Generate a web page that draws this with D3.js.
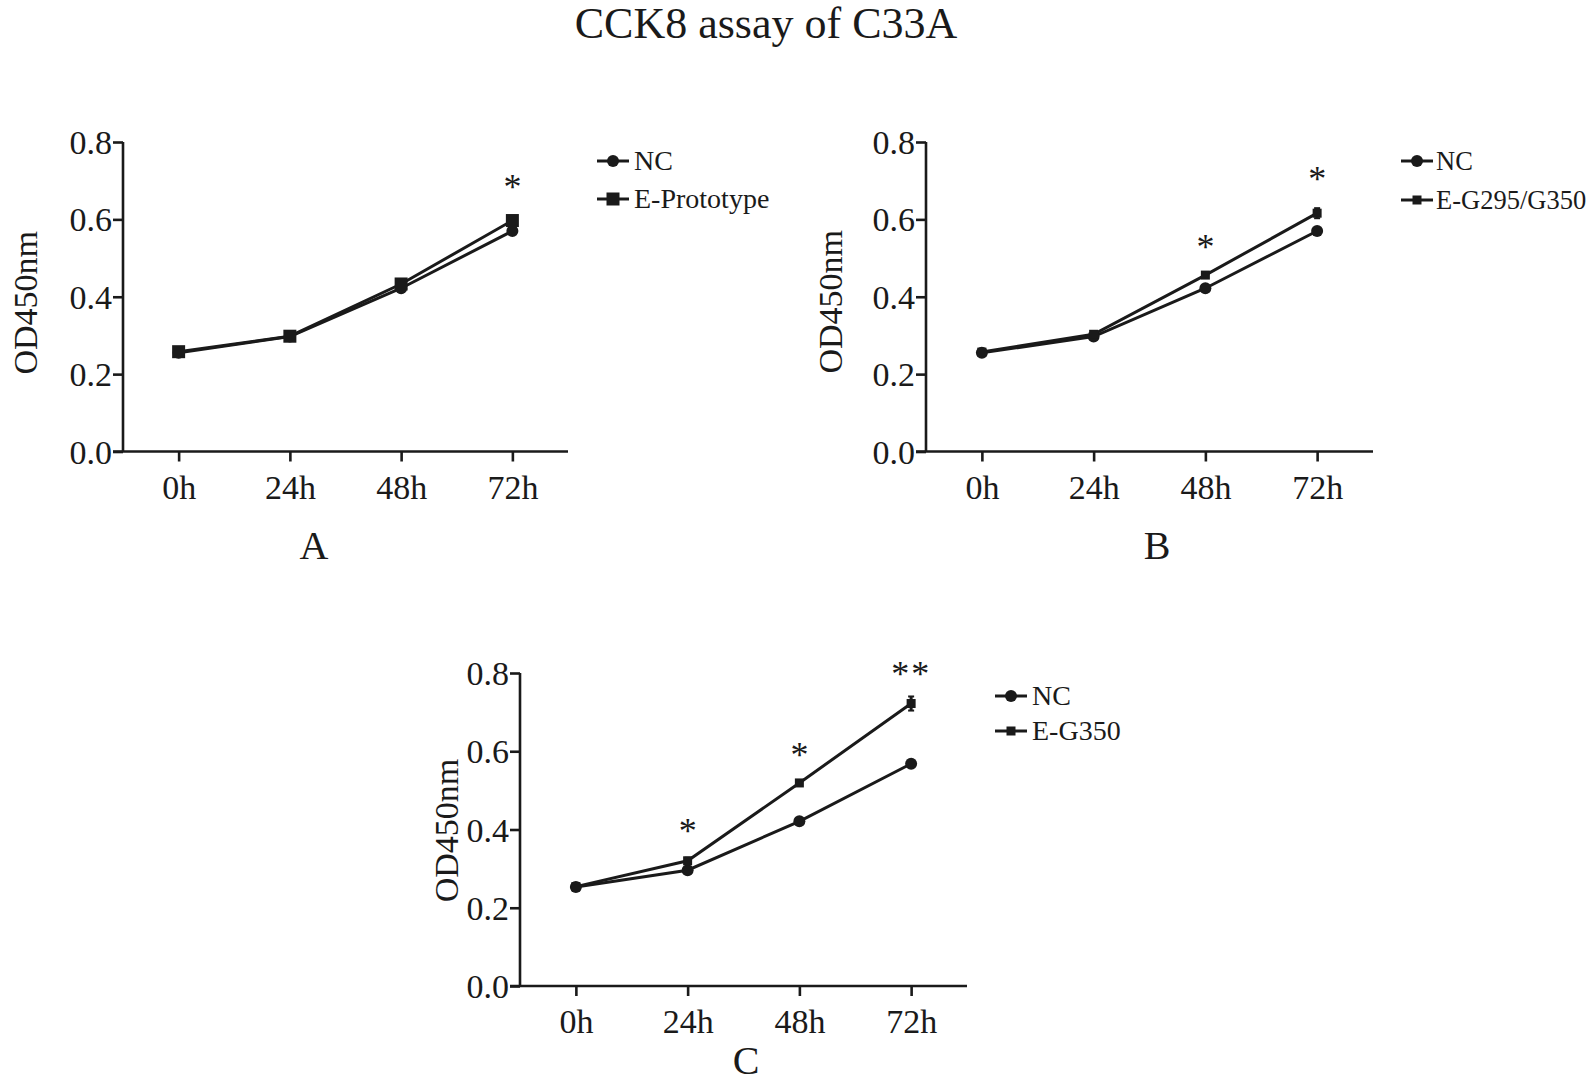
<!DOCTYPE html>
<html><head><meta charset="utf-8">
<script src="https://cdn.jsdelivr.net/npm/d3@7"></script>
<style>
body{margin:0;background:#fff}
text{font-family:"Liberation Serif","Times New Roman",serif;fill:#1a1a1a}
</style>
</head><body>
<svg id="c" width="1591" height="1083"></svg>
<script>
// ---- data ----
const timePoints = ["0h", "24h", "48h", "72h"];
const yTicks = [0.0, 0.2, 0.4, 0.6, 0.8];
const ncA = [0.255, 0.297, 0.422, 0.570];
const protoA = [0.258, 0.298, 0.433, 0.597];
const ncB = [0.255, 0.297, 0.422, 0.570];
const g295B = [0.257, 0.303, 0.456, 0.616];
const g295BErr = [0.003, 0.004, 0.006, 0.013];
const ncC = [0.253, 0.296, 0.421, 0.568];
const g350C = [0.254, 0.320, 0.519, 0.722];
const g350CErr = [0.003, 0.008, 0.006, 0.018];
const starsA = [{t: "72h", s: "*", v: 0.694}];
const starsB = [{t: "48h", s: "*", v: 0.539}, {t: "72h", s: "*", v: 0.715}];
const starsC = [{t: "24h", s: "*", v: 0.407}, {t: "48h", s: "*", v: 0.601}, {t: "72h", s: "**", v: 0.808}];
const titleText = "CCK8 assay of C33A";
const yLabel = "OD450nm";

// ---- layout ----
const panels = [
  {letter: "A", axisX: 123, axisEnd: 568, yTop: 142, yBot: 451.5, labX: 25, labDy: 6,
   letterX: 314, letterY: 559, legX: 597, legY: [161, 199], legFont: 28, legGap: 37,
   series: [{name: "NC", vals: ncA, shape: "circle"}, {name: "E-Prototype", vals: protoA, shape: "bigsquare"}],
   stars: starsA},
  {letter: "B", axisX: 926, axisEnd: 1373, yTop: 142, yBot: 451.5, labX: 830, labDy: 5,
   letterX: 1157, letterY: 559, legX: 1401, legY: [161, 200], legFont: 26.5, legGap: 35,
   series: [{name: "NC", vals: ncB, shape: "circle"}, {name: "E-G295/G350", vals: g295B, err: g295BErr, shape: "square"}],
   stars: starsB},
  {letter: "C", axisX: 520, axisEnd: 967, yTop: 673, yBot: 986, labX: 446, labDy: 1,
   letterX: 746, letterY: 1074, legX: 995, legY: [696, 731], legFont: 28, legGap: 37,
   series: [{name: "NC", vals: ncC, shape: "circle"}, {name: "E-G350", vals: g350C, err: g350CErr, shape: "square"}],
   stars: starsC}
];

const svg = d3.select("#c");
const ink = "#1a1a1a";

svg.append("text").attr("x", 766).attr("y", 38).attr("text-anchor", "middle")
  .attr("font-size", 44).text(titleText);

function marker(g, shape, cx, cy) {
  if (shape === "circle") {
    g.append("circle").attr("cx", cx).attr("cy", cy).attr("r", 6).attr("fill", ink);
  } else if (shape === "bigsquare") {
    g.append("rect").attr("x", cx - 6.5).attr("y", cy - 6.5).attr("width", 13).attr("height", 13).attr("fill", ink);
  } else {
    g.append("rect").attr("x", cx - 4.5).attr("y", cy - 4.5).attr("width", 9).attr("height", 9).attr("fill", ink);
  }
}

panels.forEach(p => {
  const g = svg.append("g");
  const x = d3.scalePoint().domain(timePoints).range([p.axisX, p.axisEnd]).padding(0.5);
  const y = d3.scaleLinear().domain([0, 0.8]).range([p.yBot, p.yTop]);

  const xa = g.append("g").attr("transform", `translate(0,${p.yBot})`)
    .call(d3.axisBottom(x).tickSize(10).tickSizeOuter(0).tickPadding(13));
  const ya = g.append("g").attr("transform", `translate(${p.axisX},0)`)
    .call(d3.axisLeft(y).tickValues(yTicks).tickFormat(d3.format(".1f")).tickSize(10).tickSizeOuter(0).tickPadding(1));
  [xa, ya].forEach(a => {
    a.selectAll("path,line").attr("stroke", ink).attr("stroke-width", 2.6);
    a.selectAll("text").attr("font-size", 34).attr("fill", ink)
      .style("font-family", '"Liberation Serif","Times New Roman",serif');
  });
  ya.selectAll(".tick text").attr("dy", "0.34em");
  ya.select(".domain").attr("d", `M0,${p.yBot}V${p.yTop}`);
  xa.select(".domain").attr("d", `M${p.axisX - 10},0H${p.axisEnd}`);

  const cy = (p.yTop + p.yBot) / 2 + p.labDy;
  g.append("text").attr("transform", `translate(${p.labX + 12},${cy}) rotate(-90)`)
    .attr("text-anchor", "middle").attr("font-size", 34).text(yLabel);

  g.append("text").attr("x", p.letterX).attr("y", p.letterY)
    .attr("text-anchor", "middle").attr("font-size", 40).text(p.letter);

  const line = d3.line().x((d, i) => x(timePoints[i])).y(d => y(d));
  p.series.forEach(s => {
    g.append("path").datum(s.vals).attr("d", line).attr("fill", "none")
      .attr("stroke", ink).attr("stroke-width", 3);
  });
  p.series.forEach(s => {
    s.vals.forEach((v, i) => {
      const cx = x(timePoints[i]);
      if (s.err && s.err[i] > 0.004) {
        g.append("line").attr("x1", cx).attr("x2", cx).attr("y1", y(v - s.err[i])).attr("y2", y(v + s.err[i]))
          .attr("stroke", ink).attr("stroke-width", 3);
        [v - s.err[i], v + s.err[i]].forEach(e => g.append("line").attr("x1", cx - 3).attr("x2", cx + 3)
          .attr("y1", y(e)).attr("y2", y(e)).attr("stroke", ink).attr("stroke-width", 2));
      }
      marker(g, s.shape, cx, y(v));
    });
  });

  p.stars.forEach(st => {
    g.append("text").attr("x", x(st.t)).attr("y", y(st.v) + 16).attr("text-anchor", "middle")
      .attr("font-size", 36).attr("letter-spacing", st.s.length > 1 ? 2 : 0).text(st.s);
  });

  p.series.forEach((s, i) => {
    const ly = p.legY[i];
    g.append("line").attr("x1", p.legX).attr("x2", p.legX + 32).attr("y1", ly).attr("y2", ly)
      .attr("stroke", ink).attr("stroke-width", 3);
    marker(g, s.shape, p.legX + 16, ly);
    g.append("text").attr("x", p.legX + p.legGap).attr("y", ly + 9).attr("font-size", p.legFont).text(s.name);
  });
});
</script>
</body></html>
